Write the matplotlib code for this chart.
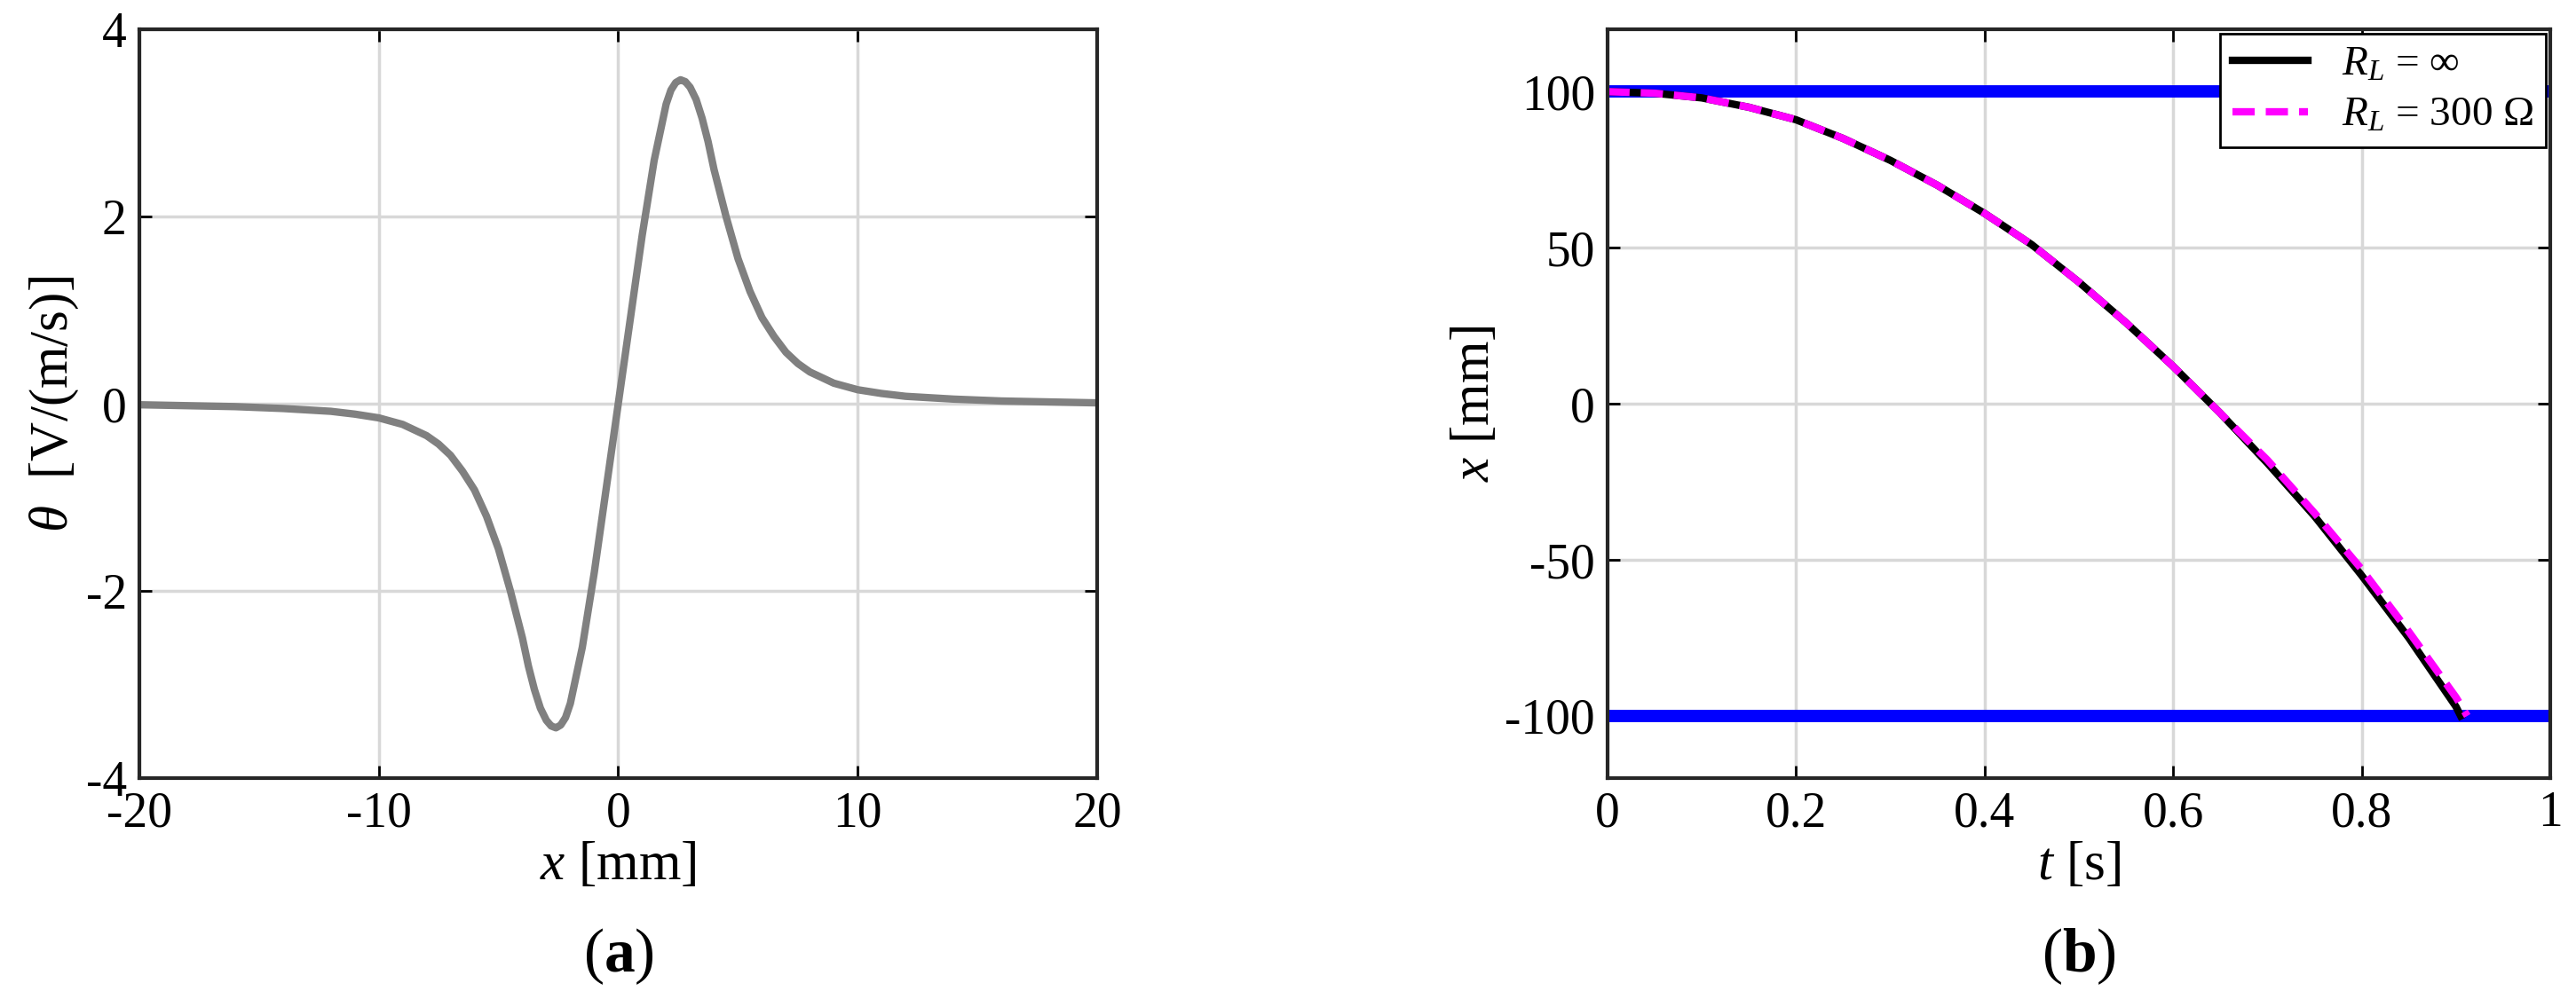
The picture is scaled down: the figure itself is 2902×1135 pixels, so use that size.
import matplotlib
matplotlib.use("Agg")
import matplotlib.pyplot as plt

plt.rcParams['font.family'] = ['Liberation Serif', 'DejaVu Serif']
plt.rcParams['mathtext.fontset'] = 'custom'
plt.rcParams['mathtext.rm'] = 'Liberation Serif'
plt.rcParams['mathtext.it'] = 'Liberation Serif:italic'
plt.rcParams['mathtext.bf'] = 'Liberation Serif:bold'
plt.rcParams['axes.unicode_minus'] = False

# Panel (a)
xa_pos = [0, 0.5, 1, 1.5, 2, 2.2, 2.4, 2.6, 2.7, 2.8, 3, 3.25, 3.5, 3.75, 4, 4.5, 5, 5.5, 6, 6.5, 7, 7.5, 8, 9, 10, 11, 12, 14, 16, 18, 20]
th_pos = [0, 0.9, 1.8, 2.6, 3.2, 3.35, 3.43, 3.46, 3.45, 3.44, 3.38, 3.25, 3.05, 2.8, 2.5, 2.0, 1.55, 1.2, 0.92, 0.72, 0.55, 0.43, 0.34, 0.22, 0.15, 0.11, 0.08, 0.05, 0.03, 0.02, 0.01]
xa = [-v for v in xa_pos[::-1]] + xa_pos[1:]
tha = [-v for v in th_pos[::-1]] + th_pos[1:]

# Panel (b)
t_inf = [0, 0.05, 0.1, 0.15, 0.2, 0.25, 0.3, 0.35, 0.4, 0.45, 0.5, 0.55, 0.6, 0.65, 0.7, 0.75, 0.8, 0.85, 0.9, 0.905]
x_inf = [100, 99.5, 98, 95, 91, 85, 78, 70, 61, 51, 39, 26, 12, -3, -19, -36, -55, -75, -97, -100]
t_300 = [0, 0.05, 0.1, 0.15, 0.2, 0.25, 0.3, 0.35, 0.4, 0.45, 0.5, 0.55, 0.6, 0.65, 0.7, 0.75, 0.8, 0.85, 0.9, 0.912]
x_300 = [100, 99.5, 98, 95, 91, 85, 78, 70, 61, 51, 39, 26, 12, -3, -18, -35, -53, -73, -94, -100]
bounds = [100, -100]

fig = plt.figure(figsize=(29.02, 11.35), dpi=100)
ax1 = fig.add_axes([0.054, 0.227, 0.372, 0.744])
ax2 = fig.add_axes([0.624, 0.227, 0.366, 0.744])

fs = 40
for ax in (ax1, ax2):
    ax.grid(True, color='#d8d8d8', linewidth=2.5)
    ax.set_axisbelow(True)
    ax.tick_params(labelsize=fs, direction='in', length=10, width=2, top=True, right=True, pad=10)
    for s in ax.spines.values():
        s.set_linewidth(3)
        s.set_color('#262626')

ax1.plot(xa, tha, color='#808080', linewidth=6)
ax1.set_xlim(-20, 20)
ax1.set_ylim(-4, 4)
ax1.set_xticks([-20, -10, 0, 10, 20])
ax1.set_yticks([-4, -2, 0, 2, 4])
ax1.set_xlabel(r'$x$ [mm]', fontsize=44)
ax1.set_ylabel(r'$\theta$  [V/(m/s)]', fontsize=44)

for b in bounds:
    ax2.axhline(b, color='#0000ff', linewidth=10)
ax2.plot(t_inf, x_inf, color='black', linewidth=6, label=r'$R_L$ = ∞')
ax2.plot(t_300, x_300, color='#ff00ff', linewidth=6, linestyle=(0, (3, 1.5)), label=r'$R_L$ = 300 Ω')
ax2.set_xlim(0, 1)
ax2.set_ylim(-120, 120)
ax2.set_xticks([0, 0.2, 0.4, 0.6, 0.8, 1])
ax2.set_xticklabels(['0', '0.2', '0.4', '0.6', '0.8', '1'])
ax2.set_yticks([-100, -50, 0, 50, 100])
ax2.set_xlabel(r'$t$ [s]', fontsize=44)
ax2.set_ylabel(r'$x$ [mm]', fontsize=44)
leg = ax2.legend(loc='upper right', fontsize=34, frameon=True, fancybox=False,
                 edgecolor='black', framealpha=1, borderaxespad=0.1, handlelength=1.8,
                 borderpad=0.3, labelspacing=0.3)
leg.get_frame().set_linewidth(2)

fig.text(0.24, 0.035, r'($\mathbf{a}$)', fontsize=50, ha='center')
fig.text(0.807, 0.035, r'($\mathbf{b}$)', fontsize=50, ha='center')

fig.savefig('out.png', dpi=100)
